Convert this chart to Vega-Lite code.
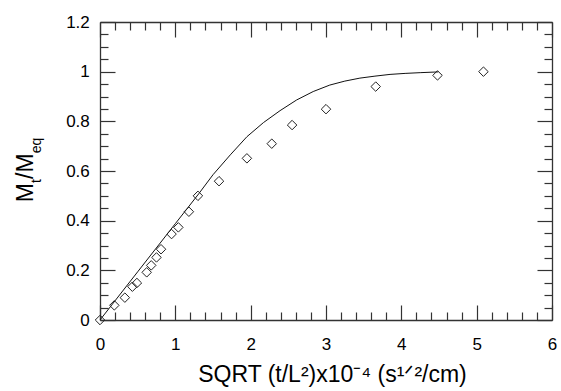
{
  "$schema": "https://vega.github.io/schema/vega-lite/v6.json",
  "width": 452,
  "height": 298,
  "autosize": {"type": "none"},
  "padding": {"left": 100, "top": 22, "right": 9, "bottom": 71},
  "background": "white",
  "config": {"view": {"stroke": null}, "font": "Liberation Sans"},
  "datasets": {
    "points": [
      {"x": 0, "y": 0}, {"x": 0.19, "y": 0.059}, {"x": 0.33, "y": 0.09}, {"x": 0.43, "y": 0.134},
      {"x": 0.49, "y": 0.149}, {"x": 0.62, "y": 0.192}, {"x": 0.68, "y": 0.22}, {"x": 0.75, "y": 0.252},
      {"x": 0.81, "y": 0.285}, {"x": 0.95, "y": 0.346}, {"x": 1.04, "y": 0.373}, {"x": 1.18, "y": 0.436},
      {"x": 1.3, "y": 0.5}, {"x": 1.58, "y": 0.559}, {"x": 1.95, "y": 0.651}, {"x": 2.28, "y": 0.71},
      {"x": 2.55, "y": 0.785}, {"x": 3.0, "y": 0.849}, {"x": 3.66, "y": 0.94}, {"x": 4.48, "y": 0.985},
      {"x": 5.09, "y": 1.0}
    ],
    "curve": [
      {"x": 0, "y": 0}, {"x": 0.5, "y": 0.194}, {"x": 1.0, "y": 0.388}, {"x": 1.15, "y": 0.446},
      {"x": 1.31, "y": 0.508}, {"x": 1.5, "y": 0.585}, {"x": 1.73, "y": 0.665}, {"x": 1.95, "y": 0.738},
      {"x": 2.17, "y": 0.795}, {"x": 2.39, "y": 0.843}, {"x": 2.61, "y": 0.886}, {"x": 2.83, "y": 0.92},
      {"x": 3.05, "y": 0.946}, {"x": 3.25, "y": 0.962}, {"x": 3.45, "y": 0.974}, {"x": 3.65, "y": 0.982},
      {"x": 3.85, "y": 0.989}, {"x": 4.05, "y": 0.993}, {"x": 4.25, "y": 0.996}, {"x": 4.49, "y": 0.999}
    ],
    "one": [{}]
  },
  "layer": [
    {
      "data": {"name": "curve"},
      "mark": {"type": "line", "color": "#111111", "strokeWidth": 1},
      "encoding": {
        "x": {
          "field": "x", "type": "quantitative",
          "scale": {"domain": [0, 6], "nice": false, "zero": false},
          "axis": {
            "orient": "bottom",
            "values": [0,0.2,0.4,0.6,0.8,1,1.2,1.4,1.6,1.8,2,2.2,2.4,2.6,2.8,3,3.2,3.4,3.6,3.8,4,4.2,4.4,4.6,4.8,5,5.2,5.4,5.6,5.8,6],
            "grid": false,
            "title": "SQRT (t/L²)x10⁻⁴ (s¹ᐟ²/cm)",
            "titleFont": "Liberation Sans", "titleFontSize": 23, "titleFontWeight": "normal", "titleColor": "black",
            "titleBaseline": "alphabetic", "titleX": 232, "titleY": 61.5,
            "labelExpr": "datum.value % 1 === 0 ? format(datum.value, '~g') : ''",
            "labelFont": "Liberation Sans", "labelFontSize": 17, "labelColor": "black",
            "labelPadding": 31, "labelFlush": false, "labelOverlap": false,
            "tickSize": {"condition": {"test": "datum.value % 1 === 0", "value": -15}, "value": -8},
            "tickColor": "#333333", "tickWidth": 1.2,
            "domainColor": "#333333", "domainWidth": 1.3
          }
        },
        "y": {
          "field": "y", "type": "quantitative",
          "scale": {"domain": [0, 1.2], "nice": false, "zero": false},
          "axis": {
            "orient": "left",
            "values": [0,0.05,0.1,0.15,0.2,0.25,0.3,0.35,0.4,0.45,0.5,0.55,0.6,0.65,0.7,0.75,0.8,0.85,0.9,0.95,1,1.05,1.1,1.15,1.2],
            "grid": false,
            "title": null,
            "labelExpr": "abs(datum.value*5 - round(datum.value*5)) < 0.001 ? format(datum.value, '~g') : ''",
            "labelFont": "Liberation Sans", "labelFontSize": 17, "labelColor": "black",
            "labelPadding": 25.7, "labelFlush": false, "labelOverlap": false,
            "tickSize": {"condition": {"test": "abs(datum.value*5 - round(datum.value*5)) < 0.001", "value": -15}, "value": -8},
            "tickColor": "#333333", "tickWidth": 1.2,
            "domainColor": "#333333", "domainWidth": 1.3
          }
        }
      }
    },
    {
      "data": {"name": "points"},
      "mark": {"type": "point", "shape": "diamond", "size": 90, "filled": false, "color": "#222222", "strokeWidth": 1, "opacity": 1},
      "encoding": {
        "x": {
          "field": "x", "type": "quantitative",
          "scale": {"domain": [0, 6], "nice": false, "zero": false},
          "axis": {
            "orient": "top",
            "values": [0,0.2,0.4,0.6,0.8,1,1.2,1.4,1.6,1.8,2,2.2,2.4,2.6,2.8,3,3.2,3.4,3.6,3.8,4,4.2,4.4,4.6,4.8,5,5.2,5.4,5.6,5.8,6],
            "grid": false, "title": null, "labels": false,
            "tickSize": {"condition": {"test": "datum.value % 1 === 0", "value": -15}, "value": -8},
            "tickColor": "#333333", "tickWidth": 1.2,
            "domainColor": "#333333", "domainWidth": 1.3
          }
        },
        "y": {
          "field": "y", "type": "quantitative",
          "scale": {"domain": [0, 1.2], "nice": false, "zero": false},
          "axis": {
            "orient": "right",
            "values": [0,0.05,0.1,0.15,0.2,0.25,0.3,0.35,0.4,0.45,0.5,0.55,0.6,0.65,0.7,0.75,0.8,0.85,0.9,0.95,1,1.05,1.1,1.15,1.2],
            "grid": false, "title": null, "labels": false,
            "tickSize": {"condition": {"test": "abs(datum.value*5 - round(datum.value*5)) < 0.001", "value": -15}, "value": -8},
            "tickColor": "#333333", "tickWidth": 1.2,
            "domainColor": "#333333", "domainWidth": 1.3
          }
        }
      }
    },
    {
      "data": {"name": "one"},
      "mark": {"type": "text", "text": "M", "angle": 270, "align": "left", "baseline": "alphabetic", "font": "Liberation Sans", "fontSize": 23, "color": "black"},
      "encoding": {
        "x": {"datum": -0.889, "type": "quantitative", "scale": {"domain": [0, 6], "nice": false, "zero": false}, "axis": null},
        "y": {"datum": 0.474, "type": "quantitative", "scale": {"domain": [0, 1.2], "nice": false, "zero": false}, "axis": null}
      }
    },
    {
      "data": {"name": "one"},
      "mark": {"type": "text", "text": "t", "angle": 270, "align": "left", "baseline": "alphabetic", "font": "Liberation Sans", "fontSize": 14, "color": "black"},
      "encoding": {
        "x": {"datum": -0.777, "type": "quantitative", "scale": {"domain": [0, 6], "nice": false, "zero": false}, "axis": null},
        "y": {"datum": 0.552, "type": "quantitative", "scale": {"domain": [0, 1.2], "nice": false, "zero": false}, "axis": null}
      }
    },
    {
      "data": {"name": "one"},
      "mark": {"type": "text", "text": "/M", "angle": 270, "align": "left", "baseline": "alphabetic", "font": "Liberation Sans", "fontSize": 23, "color": "black"},
      "encoding": {
        "x": {"datum": -0.889, "type": "quantitative", "scale": {"domain": [0, 6], "nice": false, "zero": false}, "axis": null},
        "y": {"datum": 0.568, "type": "quantitative", "scale": {"domain": [0, 1.2], "nice": false, "zero": false}, "axis": null}
      }
    },
    {
      "data": {"name": "one"},
      "mark": {"type": "text", "text": "eq", "angle": 270, "align": "left", "baseline": "alphabetic", "font": "Liberation Sans", "fontSize": 14, "color": "black"},
      "encoding": {
        "x": {"datum": -0.777, "type": "quantitative", "scale": {"domain": [0, 6], "nice": false, "zero": false}, "axis": null},
        "y": {"datum": 0.671, "type": "quantitative", "scale": {"domain": [0, 1.2], "nice": false, "zero": false}, "axis": null}
      }
    }
  ],
  "resolve": {"axis": {"x": "independent", "y": "independent"}}
}
